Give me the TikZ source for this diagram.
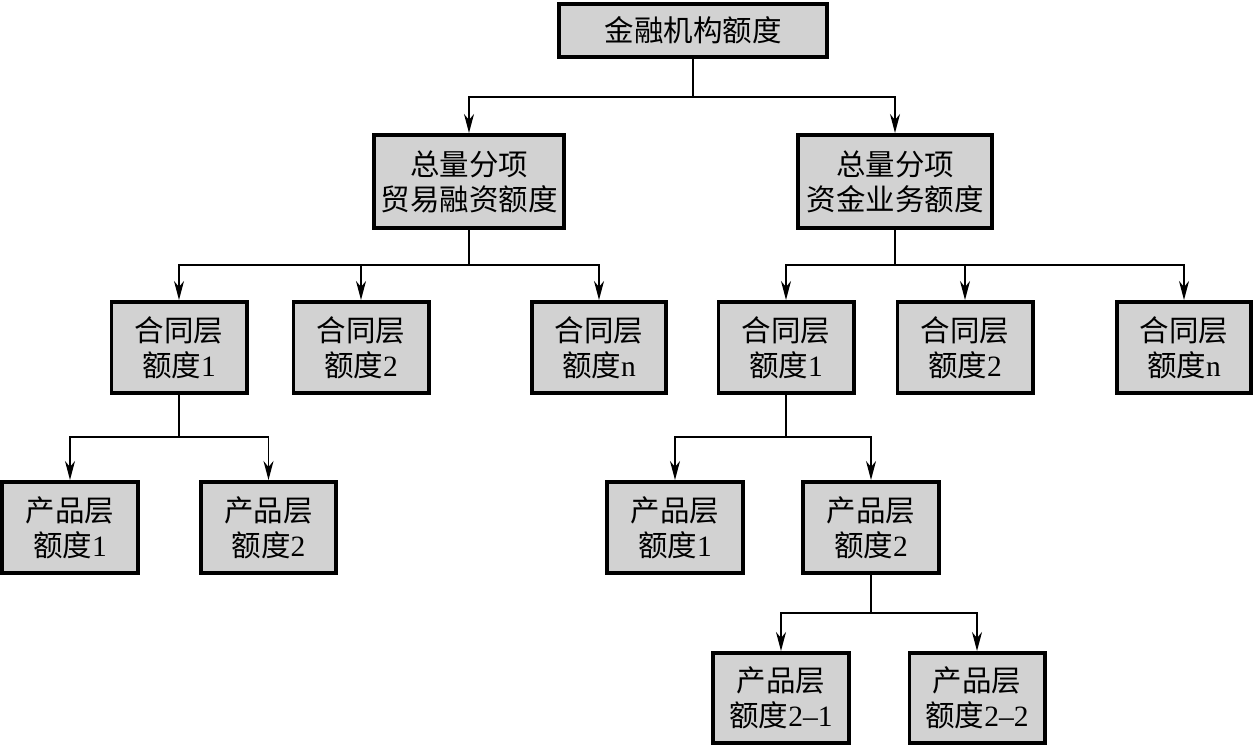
\documentclass[tikz,border=0pt]{standalone}
\usepackage{fontspec}
\setmainfont{Liberation Serif}
\newfontfamily\cjk{Noto Sans CJK SC}
\newfontfamily\lat{Liberation Serif}
\usetikzlibrary{arrows.meta}
\definecolor{boxgray}{RGB}{210,210,210}
\tikzset{
  qbox/.style={draw=black, fill=boxgray, line width=3.6pt, inner sep=0pt, align=center,
    font=\cjk\fontsize{29.5}{35}\selectfont, text=black},
  conn/.style={line width=1.6pt, draw=black},
  arr/.style={conn, -{Stealth[length=19pt,width=10pt,inset=6pt]}}
}
\newcommand{\nm}[1]{{\lat #1}}
\begin{document}
\begin{tikzpicture}[x=1pt,y=-1pt]
\useasboundingbox (0,0) rectangle (1255,746);
% level 1
\node[qbox, minimum width=268.4pt, minimum height=53.4pt] (top) at (693,30.5) {金融机构额度};
% level 2
\node[qbox, minimum width=190.4pt, minimum height=93.4pt] (ta) at (469,181.5) {总量分项\\贸易融资额度};
\node[qbox, minimum width=194.4pt, minimum height=93.4pt] (tb) at (895,181.5) {总量分项\\资金业务额度};
% level 3
\node[qbox, minimum width=135.4pt, minimum height=91.4pt] (a1) at (179,347.5) {合同层\\额度\nm{1}};
\node[qbox, minimum width=135.4pt, minimum height=91.4pt] (a2) at (361,347.5) {合同层\\额度\nm{2}};
\node[qbox, minimum width=134.4pt, minimum height=91.4pt] (an) at (599,347.5) {合同层\\额度\nm{n}};
\node[qbox, minimum width=135.4pt, minimum height=91.4pt] (b1) at (786,347.5) {合同层\\额度\nm{1}};
\node[qbox, minimum width=135.4pt, minimum height=91.4pt] (b2) at (965,347.5) {合同层\\额度\nm{2}};
\node[qbox, minimum width=134.4pt, minimum height=91.4pt] (bn) at (1184,347.5) {合同层\\额度\nm{n}};
% level 4
\node[qbox, minimum width=136.4pt, minimum height=91.4pt] (c1) at (70,527.5) {产品层\\额度\nm{1}};
\node[qbox, minimum width=135.4pt, minimum height=91.4pt] (c2) at (268.5,527.5) {产品层\\额度\nm{2}};
\node[qbox, minimum width=136.4pt, minimum height=91.4pt] (d1) at (675,527.5) {产品层\\额度\nm{1}};
\node[qbox, minimum width=136.4pt, minimum height=91.4pt] (d2) at (871,527.5) {产品层\\额度\nm{2}};
% level 5
\node[qbox, minimum width=136.4pt, minimum height=90.4pt] (e1) at (781,698) {产品层\\额度\nm{2–1}};
\node[qbox, minimum width=135.4pt, minimum height=90.4pt] (e2) at (977,698) {产品层\\额度\nm{2–2}};
% junctions
\coordinate (j1) at (0,97);
\coordinate (j2) at (0,265);
\coordinate (j3) at (0,437);
\coordinate (j4) at (0,613);
% connectors
\foreach \c in {ta,tb} \draw[arr] (top.south) -- (top.south |- j1) -| (\c.north);
\foreach \c in {a1,a2,an} \draw[arr] (ta.south) -- (ta.south |- j2) -| (\c.north);
\foreach \c in {b1,b2,bn} \draw[arr] (tb.south) -- (tb.south |- j2) -| (\c.north);
\foreach \c in {c1,c2} \draw[arr] (a1.south) -- (a1.south |- j3) -| (\c.north);
\foreach \c in {d1,d2} \draw[arr] (b1.south) -- (b1.south |- j3) -| (\c.north);
\foreach \c in {e1,e2} \draw[arr] (d2.south) -- (d2.south |- j4) -| (\c.north);
\end{tikzpicture}
\end{document}
